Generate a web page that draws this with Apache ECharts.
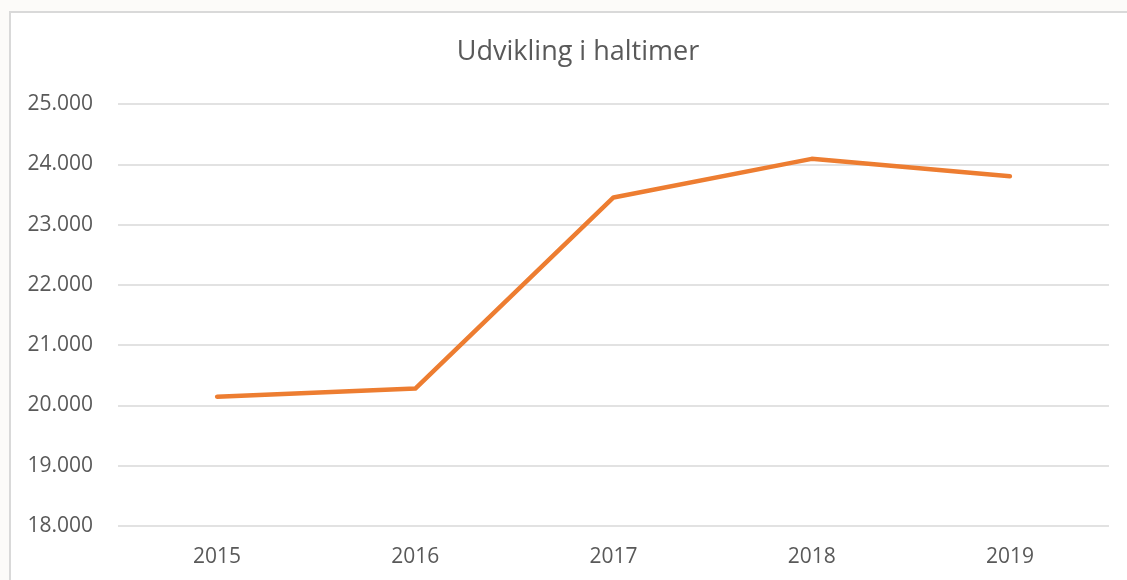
<!DOCTYPE html>
<html>
<head>
<meta charset="utf-8">
<script src="https://cdn.jsdelivr.net/npm/echarts@6/dist/echarts.min.js"></script>
<style>
  html, body { margin: 0; padding: 0; background: #fcfbf9; }
  #chart { width: 1127px; height: 580px; }
</style>
</head>
<body>
<div id="chart"></div>
<script>
const title = 'Udvikling i haltimer';
const years = ['2015', '2016', '2017', '2018', '2019'];
const haltimer = [20145, 20280, 23450, 24090, 23800];
const yMin = 18000;
const yMax = 25000;
const yStep = 1000;

const chart = echarts.init(document.getElementById('chart'), null, { renderer: 'canvas' });
const fontFamily = '"Open Sans", "Liberation Sans", sans-serif';
chart.setOption({
  animation: false,
  backgroundColor: 'transparent',
  graphic: [{
    type: 'rect',
    z: -100,
    silent: true,
    shape: { x: 10, y: 12, width: 1300, height: 800 },
    style: { fill: '#ffffff', stroke: '#d9d9d9', lineWidth: 2 }
  }],
  title: {
    text: title,
    left: 573,
    textAlign: 'center',
    top: 34,
    textStyle: { fontFamily: fontFamily, fontSize: 27, fontWeight: 'normal', color: '#595959' }
  },
  grid: { left: 118, right: 18, top: 104, bottom: 54, containLabel: false },
  xAxis: {
    type: 'category',
    data: years,
    boundaryGap: true,
    axisLine: { show: false },
    axisTick: { show: false },
    axisLabel: { fontFamily: fontFamily, fontSize: 21, color: '#595959', margin: 21 }
  },
  yAxis: {
    type: 'value',
    min: yMin,
    max: yMax,
    interval: yStep,
    axisLine: { show: false },
    axisTick: { show: false },
    splitLine: { lineStyle: { color: '#d9d9d9', width: 1.5 } },
    axisLabel: {
      fontFamily: fontFamily, fontSize: 21, color: '#595959', margin: 25,
      formatter: v => String(v).replace(/\B(?=(\d{3})+(?!\d))/g, '.')
    }
  },
  series: [{
    type: 'line',
    data: haltimer,
    symbol: 'none',
    lineStyle: { color: '#ED7D31', width: 4.5, cap: 'round', join: 'round' },
    itemStyle: { color: '#ED7D31' }
  }]
});
</script>
</body>
</html>
